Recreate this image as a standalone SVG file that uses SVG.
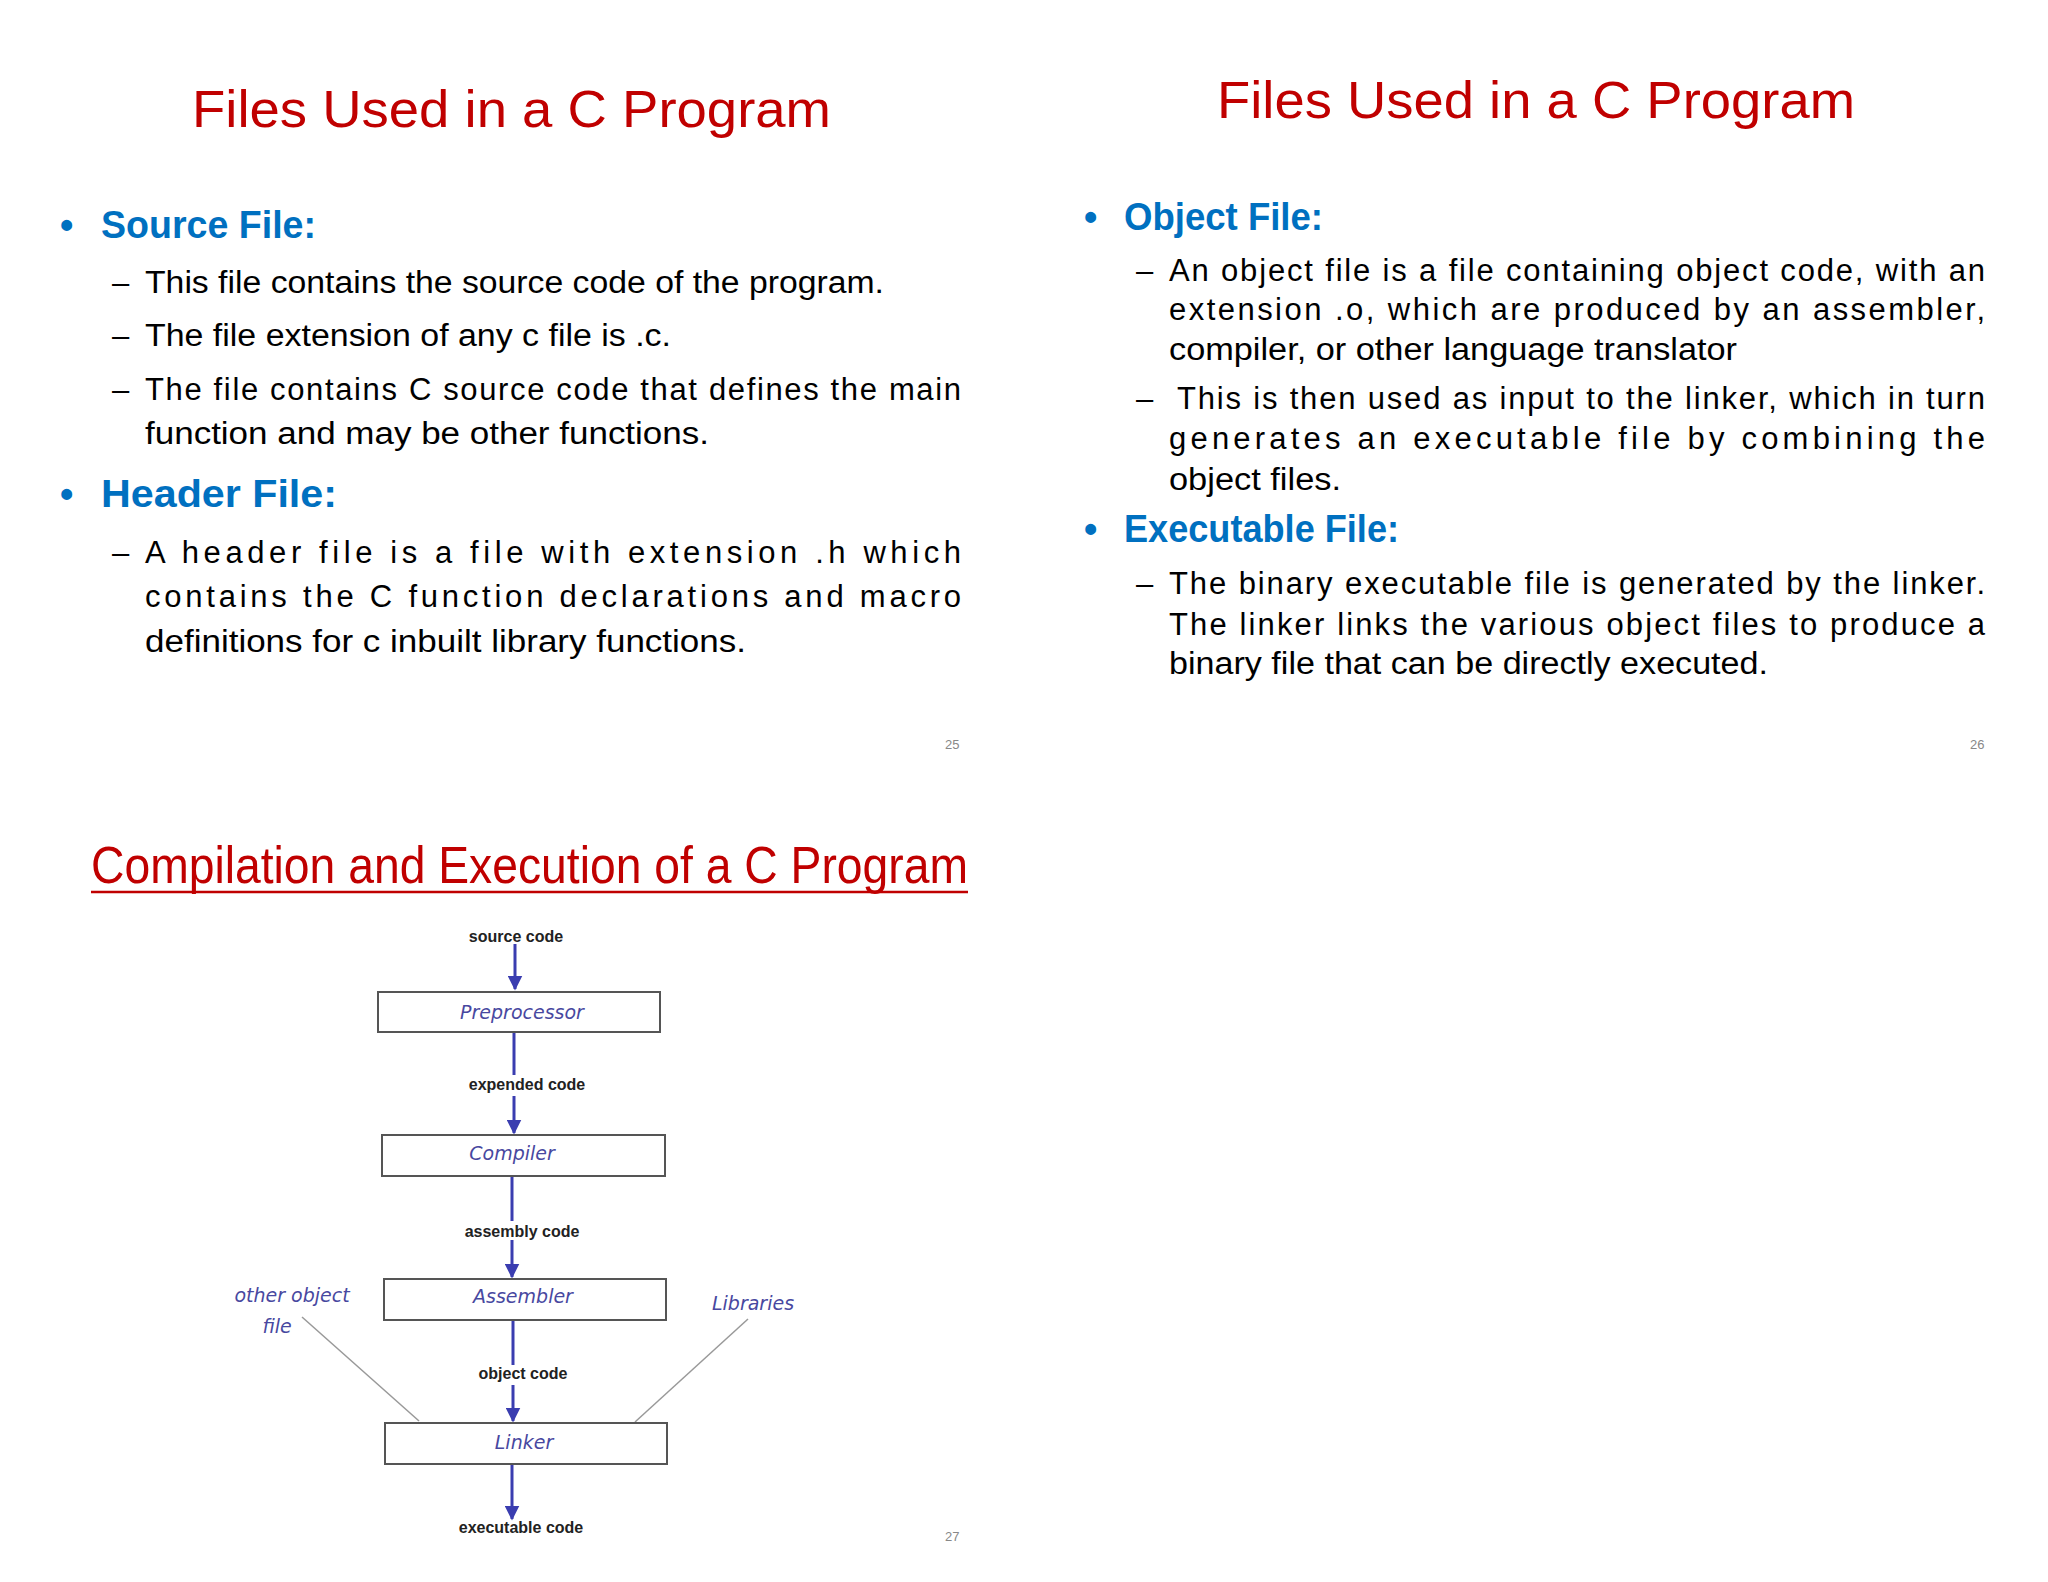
<svg xmlns="http://www.w3.org/2000/svg" width="2048" height="1582" viewBox="0 0 2048 1582">
<defs>
<style>
.t{font-family:"Liberation Sans",Arial,sans-serif;fill:#C00000;font-size:52px}
.h{font-family:"Liberation Sans",Arial,sans-serif;fill:#0070C0;font-size:38px;font-weight:bold}
.b{font-family:"Liberation Sans",Arial,sans-serif;fill:#000;font-size:31px}
.n{font-family:"Liberation Sans",Arial,sans-serif;fill:#888;font-size:13px}
.fl{font-family:"Liberation Sans",Arial,sans-serif;fill:#222;font-size:16px;font-weight:bold;text-anchor:middle}
.nl{font-family:"DejaVu Sans",sans-serif;fill:#4848a0;font-size:19px;font-style:italic;text-anchor:middle}
.box{fill:#fff;stroke:#555;stroke-width:2}
.ar{stroke:#3a3db0;stroke-width:3;fill:none}
.gl{stroke:#999;stroke-width:1.5;fill:none}
</style>
<marker id="ah" viewBox="0 0 10 10" refX="9" refY="5" markerWidth="5" markerHeight="5" orient="auto"><path d="M0,0L10,5L0,10z" fill="#3a3db0"/></marker>
</defs>
<rect width="2048" height="1582" fill="#fff"/>
<g id="slide25">
<text class="t" x="192" y="127" textLength="639" lengthAdjust="spacingAndGlyphs">Files Used in a C Program</text>
<text class="h" x="60" y="238">•</text>
<text class="h" x="101" y="238" textLength="215" lengthAdjust="spacingAndGlyphs">Source File:</text>
<text class="b" x="112" y="293">–</text>
<text class="b" x="145" y="293" textLength="739" lengthAdjust="spacingAndGlyphs">This file contains the source code of the program.</text>
<text class="b" x="112" y="346">–</text>
<text class="b" x="145" y="346" textLength="526" lengthAdjust="spacingAndGlyphs">The file extension of any c file is  .c.</text>
<text class="b" x="112" y="400">–</text>
<text class="b" x="145" y="400" textLength="816" lengthAdjust="spacing">The file contains C source code that defines the  main</text>
<text class="b" x="145" y="444" textLength="564" lengthAdjust="spacingAndGlyphs">function  and may be other functions.</text>
<text class="h" x="60" y="507">•</text>
<text class="h" x="101" y="507" textLength="236" lengthAdjust="spacingAndGlyphs">Header  File:</text>
<text class="b" x="112" y="563">–</text>
<text class="b" x="145" y="563" textLength="816" lengthAdjust="spacing">A  header  file  is  a  file  with  extension  .h  which</text>
<text class="b" x="145" y="607" textLength="816" lengthAdjust="spacing">contains   the   C   function  declarations  and  macro</text>
<text class="b" x="145" y="652" textLength="601" lengthAdjust="spacingAndGlyphs">definitions for c inbuilt library functions.</text>
<text class="n" x="945" y="749">25</text>
</g>
<g id="slide26">
<text class="t" x="1217" y="118" textLength="638" lengthAdjust="spacingAndGlyphs">Files Used in a C Program</text>
<text class="h" x="1084" y="230">•</text>
<text class="h" x="1124" y="230" textLength="199" lengthAdjust="spacingAndGlyphs">Object File:</text>
<text class="b" x="1136" y="281">–</text>
<text class="b" x="1169" y="281" textLength="816" lengthAdjust="spacing">An object file is a file containing object code, with an</text>
<text class="b" x="1169" y="320" textLength="816" lengthAdjust="spacing">extension  .o,  which  are  produced  by  an  assembler,</text>
<text class="b" x="1169" y="360" textLength="568" lengthAdjust="spacingAndGlyphs">compiler, or other language translator</text>
<text class="b" x="1136" y="409">–</text>
<text class="b" x="1177" y="409" textLength="808" lengthAdjust="spacing">This is then used as input to the linker,  which  in  turn</text>
<text class="b" x="1169" y="449" textLength="816" lengthAdjust="spacing">generates   an   executable   file  by   combining   the</text>
<text class="b" x="1169" y="490" textLength="172" lengthAdjust="spacingAndGlyphs">object files.</text>
<text class="h" x="1084" y="542">•</text>
<text class="h" x="1124" y="542" textLength="275" lengthAdjust="spacingAndGlyphs">Executable File:</text>
<text class="b" x="1136" y="594">–</text>
<text class="b" x="1169" y="594" textLength="816" lengthAdjust="spacing">The binary executable file is generated by the linker.</text>
<text class="b" x="1169" y="635" textLength="816" lengthAdjust="spacing">The linker links the various object files to produce a</text>
<text class="b" x="1169" y="674" textLength="599" lengthAdjust="spacingAndGlyphs">binary file that can be directly executed.</text>
<text class="n" x="1970" y="749">26</text>
</g>
<g id="slide27">
<text class="t" x="91" y="883" font-size="46" textLength="877" lengthAdjust="spacingAndGlyphs">Compilation and Execution of a C Program</text>
<line x1="91" y1="892" x2="968" y2="892" stroke="#C00000" stroke-width="2.5"/>
<text class="n" x="945" y="1541">27</text>
</g>
<g id="connectors">
<line class="ar" x1="515" y1="944" x2="515" y2="989" marker-end="url(#ah)"/>
<line class="ar" x1="514" y1="1032" x2="514" y2="1075"/>
<line class="ar" x1="514" y1="1096" x2="514" y2="1133" marker-end="url(#ah)"/>
<line class="ar" x1="512" y1="1176" x2="512" y2="1221"/>
<line class="ar" x1="512" y1="1240" x2="512" y2="1277" marker-end="url(#ah)"/>
<line class="ar" x1="513" y1="1320" x2="513" y2="1365"/>
<line class="ar" x1="513" y1="1385" x2="513" y2="1421" marker-end="url(#ah)"/>
<line class="ar" x1="512" y1="1464" x2="512" y2="1519" marker-end="url(#ah)"/>
<line class="gl" x1="302" y1="1317" x2="419" y2="1421"/>
<line class="gl" x1="748" y1="1319" x2="635" y2="1422"/>
</g>
<g id="labels">
<text class="fl" x="516" y="942">source code</text>
<text class="fl" x="527" y="1090">expended code</text>
<text class="fl" x="522" y="1237">assembly code</text>
<text class="fl" x="523" y="1379">object code</text>
<text class="fl" x="521" y="1533">executable code</text>
</g>
<g id="preprocessor"><rect class="box" x="378" y="992" width="282" height="40"/><text class="nl" x="522" y="1019">Preprocessor</text></g>
<g id="compiler"><rect class="box" x="382" y="1135" width="283" height="41"/><text class="nl" x="512" y="1160">Compiler</text></g>
<g id="assembler"><rect class="box" x="384" y="1279" width="282" height="41"/><text class="nl" x="523" y="1303">Assembler</text></g>
<g id="linker"><rect class="box" x="385" y="1423" width="282" height="41"/><text class="nl" x="524" y="1449">Linker</text></g>
<g id="other"><text class="nl" x="292" y="1302">other object</text><text class="nl" x="277" y="1333">file</text></g>
<g id="libraries"><text class="nl" x="753" y="1310">Libraries</text></g>
</svg>
